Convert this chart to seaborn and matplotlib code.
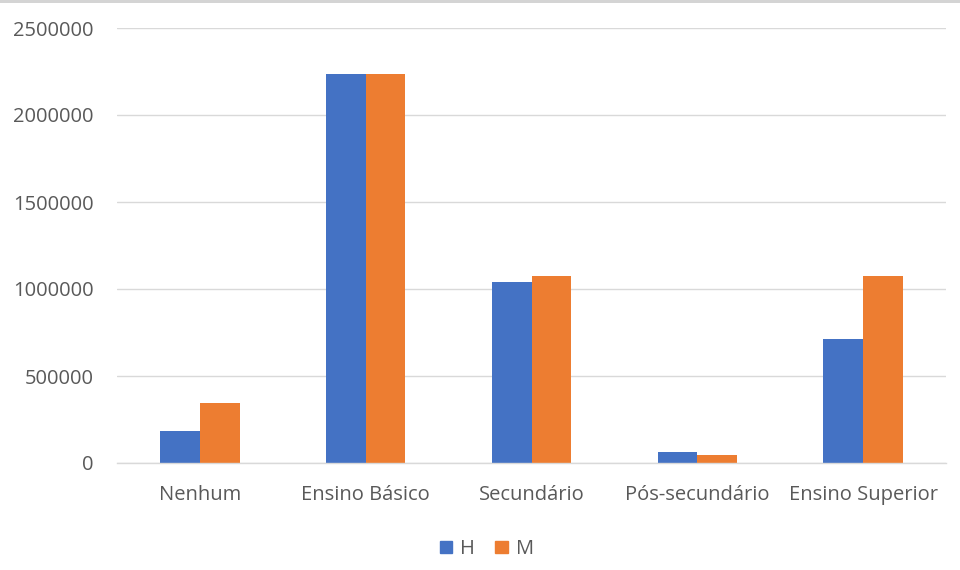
import matplotlib.pyplot as plt
import matplotlib.patches as mpatches
import pandas as pd
import seaborn as sns

# --- data ---
categories = ["Nenhum", "Ensino Básico", "Secundário", "Pós-secundário", "Ensino Superior"]
homens = [184000, 2234000, 1042000, 61500, 713000]
mulheres = [343000, 2234000, 1075000, 44000, 1075000]
series = ["H", "M"]
y_ticks = [0, 500000, 1000000, 1500000, 2000000, 2500000]

BLUE = "#4472C4"
ORANGE = "#ED7D31"
TEXT = "#595959"
GRID = "#D9D9D9"

df = pd.DataFrame({
    "categoria": categories * 2,
    "serie": ["H"] * len(categories) + ["M"] * len(categories),
    "valor": homens + mulheres,
})

sns.set_theme(style="white")
plt.rcParams["font.family"] = ["Open Sans", "DejaVu Sans"]

fig = plt.figure(figsize=(9.6, 5.7), dpi=100)
ax = fig.add_axes([117 / 960, 107 / 570, 829 / 960, 435 / 570])

sns.barplot(data=df, x="categoria", y="valor", hue="serie", order=categories,
            hue_order=series, palette=[BLUE, ORANGE], width=0.48, gap=0,
            saturation=1, ax=ax, legend=False, errorbar=None, linewidth=0)

ax.set_ylim(0, 2500000)
ax.set_xlim(-0.5, len(categories) - 0.5)
ax.set_yticks(y_ticks)
ax.set_yticklabels([str(v) for v in y_ticks])
ax.yaxis.grid(True, color=GRID, linewidth=1)
ax.set_axisbelow(True)
for s in ["top", "right", "left"]:
    ax.spines[s].set_visible(False)
ax.spines["bottom"].set_color(GRID)
ax.spines["bottom"].set_linewidth(1)
ax.tick_params(axis="both", length=0, colors=TEXT, labelsize=14.5)
ax.tick_params(axis="y", pad=17)
ax.tick_params(axis="x", pad=16)
ax.set_xlabel("")
ax.set_ylabel("")

handles = [mpatches.Patch(color=BLUE, label="H"), mpatches.Patch(color=ORANGE, label="M")]
leg = fig.legend(handles=handles, loc="center", bbox_to_anchor=(487 / 960, 21 / 570),
                 ncol=2, frameon=False, fontsize=14.5, handlelength=0.6, handleheight=0.6,
                 handletextpad=0.4, columnspacing=1.0)
for t in leg.get_texts():
    t.set_color(TEXT)

# grey band at the very top of the screenshot
fig.add_artist(mpatches.Rectangle((0, 1 - 3 / 570), 1, 3 / 570, transform=fig.transFigure,
                                  color="#D4D4D4", lw=0))

fig.savefig("out.png", dpi=100, facecolor="white")
